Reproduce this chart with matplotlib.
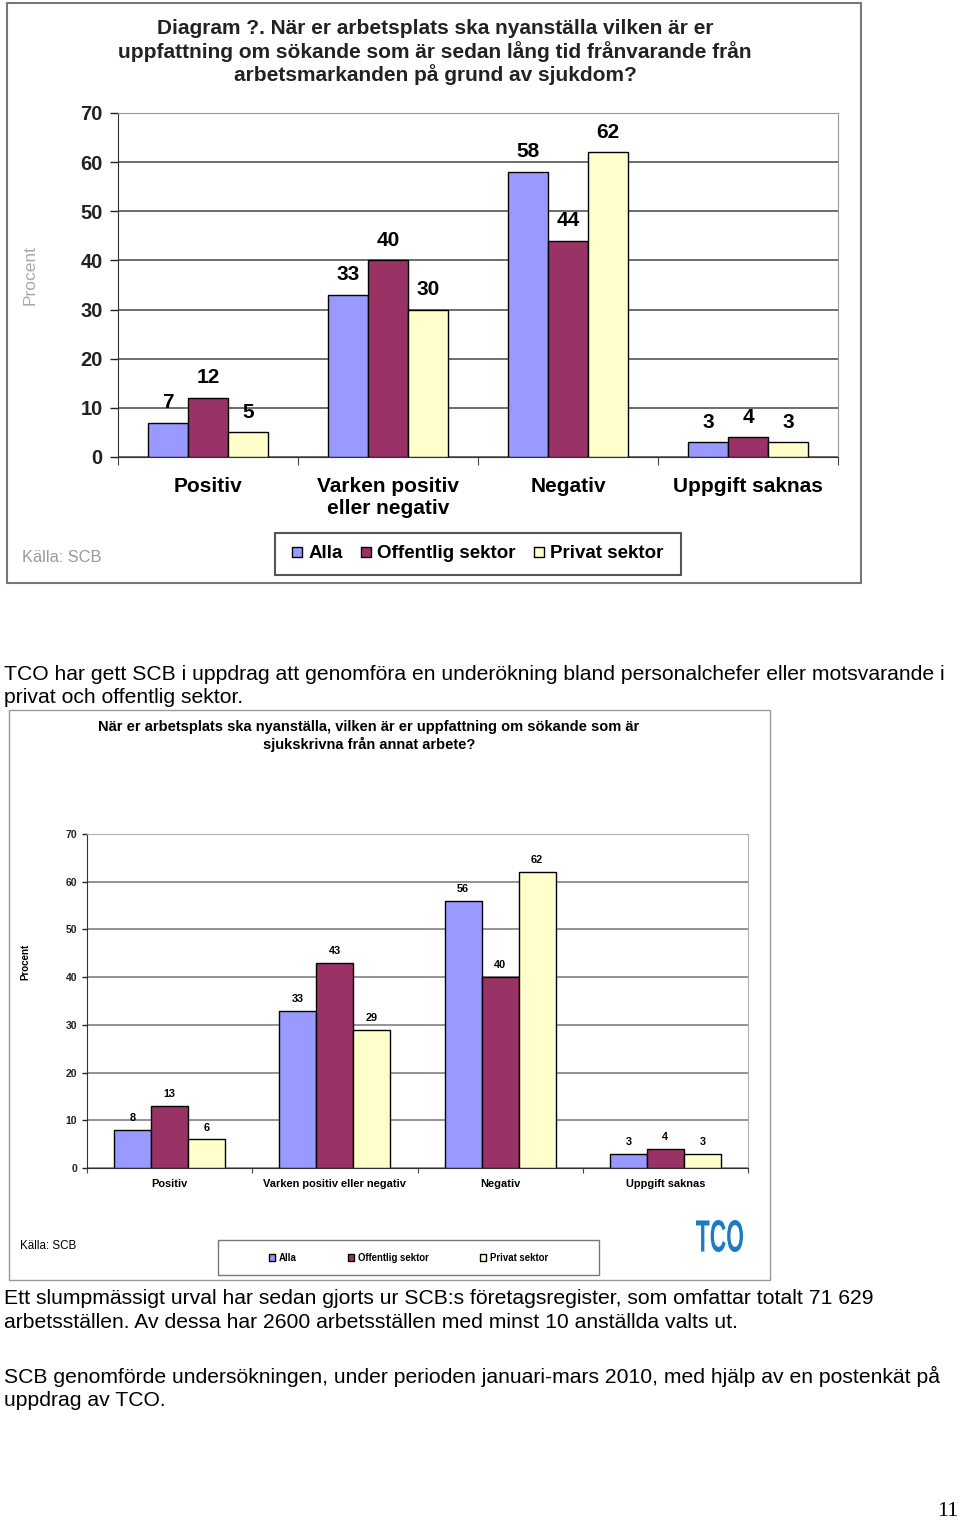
import matplotlib
matplotlib.use("Agg")
import matplotlib.pyplot as plt
import numpy as np
from matplotlib.patches import Rectangle, PathPatch
from matplotlib.textpath import TextPath
from matplotlib.font_manager import FontProperties
from matplotlib.transforms import Affine2D, IdentityTransform

# data
kategorier_1 = ["Positiv", "Varken positiv\neller negativ", "Negativ", "Uppgift saknas"]
alla_1 = [7, 33, 58, 3]
offentlig_1 = [12, 40, 44, 4]
privat_1 = [5, 30, 62, 3]

kategorier_2 = ["Positiv", "Varken positiv eller negativ", "Negativ", "Uppgift saknas"]
alla_2 = [8, 33, 56, 3]
offentlig_2 = [13, 43, 40, 4]
privat_2 = [6, 29, 62, 3]

serier = ["Alla", "Offentlig sektor", "Privat sektor"]
farger = ["#9999ff", "#993366", "#ffffcc"]
yticks = [0, 10, 20, 30, 40, 50, 60, 70]

W, H = 960, 1523
plt.rcParams['font.family'] = ['Liberation Sans', 'DejaVu Sans']


def box(x0, y0, x1, y1):
    # pixelruta -> figurkoordinater
    return [x0 / W, 1 - y1 / H, (x1 - x0) / W, (y1 - y0) / H]


def ftext(x, y, s, **kw):
    fig.text(x / W, 1 - y / H, s, **kw)


def ram(x0, y0, x1, y1, ec, lw=1.0):
    fig.add_artist(Rectangle((x0 / W, 1 - y1 / H), (x1 - x0) / W, (y1 - y0) / H,
                             transform=fig.transFigure, fill=False, ec=ec, lw=lw))


def stapeldiagram(ax, data, kat, bredd, fs_tick, fs_val, fs_kat, val_off, kat_pad,
                  gridfarg, kantfarg, ticklen, tickpad):
    x = np.arange(len(kat))
    staplar = []
    for i, (vals, c) in enumerate(zip(data, farger)):
        pos = x + (i - 1) * bredd
        b = ax.bar(pos, vals, bredd, color=c, edgecolor="black", linewidth=1.0, zorder=3)
        staplar.append(b)
        for p, v in zip(pos, vals):
            ax.annotate(str(v), (p, v), xytext=(0, val_off), textcoords="offset points",
                        ha="center", va="center", fontsize=fs_val, fontweight="bold")
    ax.set_xlim(-0.5, len(kat) - 0.5)
    ax.set_ylim(0, 70)
    ax.set_yticks(yticks)
    ax.set_yticks([], minor=True)
    ax.yaxis.grid(True, color=gridfarg, lw=1.2, zorder=1)
    ax.tick_params(axis="y", labelsize=fs_tick, length=ticklen, width=1, colors="#222222",
                   pad=tickpad)
    for t in ax.get_yticklabels():
        t.set_fontweight("bold")
    ax.set_xticks(np.arange(len(kat) + 1) - 0.5)
    ax.set_xticklabels([])
    ax.tick_params(axis="x", which="major", length=ticklen, color="#444444")
    ax.set_xticks(x, minor=True)
    ax.set_xticklabels(kat, minor=True, fontsize=fs_kat, fontweight="bold")
    ax.tick_params(axis="x", which="minor", length=0, pad=kat_pad)
    ax.spines["left"].set_color("#333333")
    ax.spines["bottom"].set_color("#333333")
    ax.spines["top"].set_color(kantfarg)
    ax.spines["right"].set_color(kantfarg)
    return staplar


fig = plt.figure(figsize=(9.6, 15.23), dpi=100)

# ---- övre diagram (inklistrad bild) ----
ram(7, 3, 861, 583, "#777777", 1.5)
ftext(435, 52, "Diagram ?. När er arbetsplats ska nyanställa vilken är er\n"
      "uppfattning om sökande som är sedan lång tid frånvarande från\n"
      "arbetsmarkanden på grund av sjukdom?",
      ha="center", va="center", fontsize=15, fontweight="bold", linespacing=1.12,
      color="#222222")
ax1 = fig.add_axes(box(118, 113, 838, 457))
st1 = stapeldiagram(ax1, [alla_1, offentlig_1, privat_1], kategorier_1, 0.222,
                    14.5, 15, 15, 14.5, 14.5, "#555555", "#999999", 6, 5)
ftext(30, 275, "Procent", rotation=90, ha="center", va="center", fontsize=12.5,
      color="#aaaaaa")
ftext(22, 558, "Källa: SCB", ha="left", va="center", fontsize=11.8, color="#999999")
ram(275, 533, 681, 575, "#555555", 1.5)
fig.legend(st1, serier, loc="center", bbox_to_anchor=((275 + 681) / 2 / W, 1 - 554 / H),
           ncol=3, frameon=False, prop={"weight": "bold", "size": 13.5},
           handlelength=0.5, handleheight=0.5, handletextpad=0.35, columnspacing=1.0,
           borderpad=0)

# ---- text ----
ftext(4, 674, "TCO har gett SCB i uppdrag att genomföra en underökning bland personalchefer eller motsvarande i",
      ha="left", va="center", fontsize=15.2)
ftext(4, 698, "privat och offentlig sektor.", ha="left", va="center", fontsize=15.2)

# ---- nedre diagram ----
ram(9, 710, 770, 1280, "#999999", 1.0)
ftext(369, 736, "När er arbetsplats ska nyanställa, vilken är er uppfattning om sökande som är\n"
      "sjukskrivna från annat arbete?", ha="center", va="center", fontsize=10.5,
      fontweight="bold", linespacing=1.2)
ax2 = fig.add_axes(box(87, 834, 748, 1168))
st2 = stapeldiagram(ax2, [alla_2, offentlig_2, privat_2], kategorier_2, 0.224,
                    7.5, 7.8, 7.9, 8.5, 8, "#808080", "#b0b0b0", 3.5, 3.5)
ftext(25, 962, "Procent", rotation=90, ha="center", va="center", fontsize=7,
      fontweight="bold")
ftext(20, 1246, "Källa: SCB", ha="left", va="center", fontsize=8.4)
ram(218, 1240, 599, 1275, "#777777", 1.0)
fig.legend(st2, serier, loc="center", bbox_to_anchor=((218 + 599) / 2 / W, 1 - 1258 / H),
           ncol=3, frameon=False, prop={"weight": "bold", "size": 6.9},
           handlelength=0.65, handleheight=0.65, handletextpad=0.4, columnspacing=5.3,
           borderpad=0)

# TCO-logga, smal och hög
logo = TextPath((0, 0), "TCO", size=10, prop=FontProperties(family="Liberation Sans", weight="bold"))
ext = logo.get_extents()
sx = (743 - 696) / ext.width
sy = (1252 - 1220) / ext.height
tr = Affine2D().translate(-ext.x0, -ext.y0).scale(sx, sy).translate(696, H - 1252)
fig.add_artist(PathPatch(logo, transform=tr + IdentityTransform(), color="#1a7cc1", lw=0))

ftext(4, 1298, "Ett slumpmässigt urval har sedan gjorts ur SCB:s företagsregister, som omfattar totalt 71 629",
      ha="left", va="center", fontsize=15.2)
ftext(4, 1322, "arbetsställen. Av dessa har 2600 arbetsställen med minst 10 anställda valts ut.",
      ha="left", va="center", fontsize=15.2)
ftext(4, 1376, "SCB genomförde undersökningen, under perioden januari-mars 2010, med hjälp av en postenkät på",
      ha="left", va="center", fontsize=15.2)
ftext(4, 1400, "uppdrag av TCO.", ha="left", va="center", fontsize=15.2)

ftext(958, 1512, "11", ha="right", va="center", fontsize=16,
      family=["Liberation Serif", "DejaVu Serif"])

fig.savefig("out.png", dpi=100)
